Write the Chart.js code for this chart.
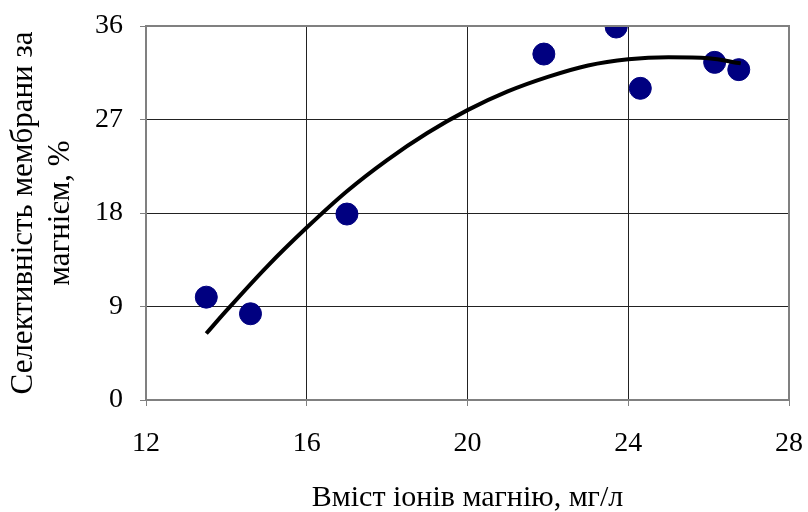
<!DOCTYPE html>
<html lang="uk">
<head>
    <meta charset="UTF-8">
    <title>Селективність мембрани</title>
    <script src="https://cdn.jsdelivr.net/npm/chart.js@4"></script>
    <style>
        html, body { margin: 0; padding: 0; background: #fff; }
        #wrap { width: 808px; height: 512px; }
    </style>
</head>
<body>
    <div id="wrap"><canvas id="chart"></canvas></div>

    <script>
        // measured points
        const magnesium = [13.5, 14.6, 17.0, 21.9, 23.7, 24.3, 26.15, 26.75];
        const selectivity = [9.9, 8.3, 17.9, 33.3, 35.9, 30.0, 32.5, 31.8];

        // trend curve
        const trendX = [13.5, 14, 15, 16, 17, 18, 19, 20, 21, 22, 23, 24, 25, 26, 26.8];
        const trendY = [6.4, 8.6, 12.8, 16.6, 20.1, 23.1, 25.7, 27.9, 29.7, 31.1, 32.2, 32.8, 33.0, 32.9, 32.4];

        const xTicks = [12, 16, 20, 24, 28];
        const yTicks = [0, 9, 18, 27, 36];

        const serif = "'Liberation Serif', 'Times New Roman', serif";

        const ctx = document.getElementById('chart').getContext('2d');
        new Chart(ctx, {
            type: 'scatter',
            data: {
                datasets: [{
                    label: 'trend',
                    data: trendX.map((x, i) => ({ x: x, y: trendY[i] })),
                    showLine: true,
                    borderColor: '#000',
                    borderWidth: 4,
                    pointRadius: 0,
                    cubicInterpolationMode: 'monotone',
                    fill: false
                }, {
                    label: 'data',
                    data: magnesium.map((x, i) => ({ x: x, y: selectivity[i] })),
                    backgroundColor: '#000080',
                    borderColor: '#000080',
                    pointRadius: 11,
                    pointHoverRadius: 11
                }]
            },
            options: {
                responsive: true,
                maintainAspectRatio: false,
                animation: false,
                events: [],
                layout: { padding: { left: 0, right: 19, top: 26, bottom: 0 } },
                plugins: { legend: { display: false }, tooltip: { enabled: false } },
                scales: {
                    x: {
                        type: 'linear',
                        min: 12,
                        max: 28,
                        afterBuildTicks: s => { s.ticks = xTicks.map(v => ({ value: v })); },
                        afterFit: s => { s.height = 112; s.paddingLeft = 0; s.paddingRight = 0; },
                        border: { color: '#808080', width: 2 },
                        grid: { color: '#222', lineWidth: 1, tickLength: 6, tickColor: '#808080' },
                        ticks: { color: '#000', font: { family: serif, size: 28 }, padding: 21, maxRotation: 0 },
                        title: {
                            display: true,
                            text: 'Вміст іонів магнію, мг/л',
                            color: '#000',
                            font: { family: serif, size: 30, lineHeight: 0.9 },
                            padding: { top: 0, bottom: 0 }
                        }
                    },
                    y: {
                        type: 'linear',
                        min: 0,
                        max: 36,
                        afterBuildTicks: s => { s.ticks = yTicks.map(v => ({ value: v })); },
                        afterFit: s => { s.width = 146; s.paddingTop = 0; s.paddingBottom = 0; },
                        border: { color: '#808080', width: 2 },
                        grid: { color: '#222', lineWidth: 1, tickLength: 6, tickColor: '#808080' },
                        ticks: { color: '#000', font: { family: serif, size: 28 }, padding: 17 },
                        title: {
                            display: true,
                            text: ['Селективність мембрани за', 'магнієм, %'],
                            color: '#000',
                            font: { family: serif, size: 31, lineHeight: 1.2 },
                            padding: { top: 5, bottom: 0 }
                        }
                    }
                }
            },
            plugins: [{
                id: 'frame',
                afterDraw(chart) {
                    const a = chart.chartArea, c = chart.ctx;
                    c.save();
                    c.strokeStyle = '#808080';
                    c.lineWidth = 2;
                    c.beginPath();
                    c.moveTo(a.left, a.top);
                    c.lineTo(a.right, a.top);
                    c.lineTo(a.right, a.bottom);
                    c.stroke();
                    c.restore();
                }
            }]
        });
    </script>
</body>
</html>
